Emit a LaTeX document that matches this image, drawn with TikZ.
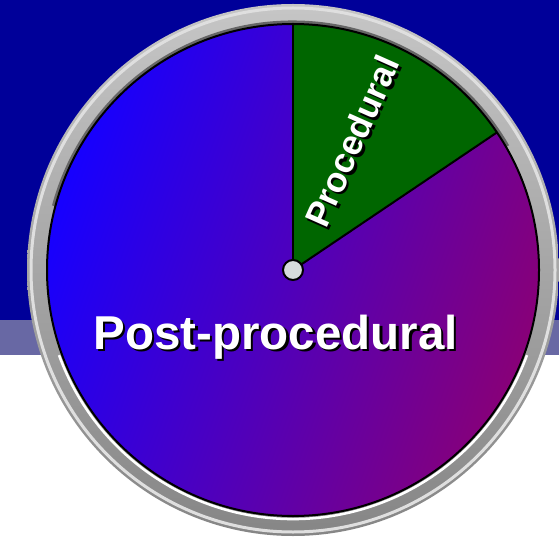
\documentclass[tikz,border=0pt]{standalone}
\usepackage{fontspec}
\setmainfont{Liberation Sans}
\definecolor{navy}{RGB}{0,0,153}
\definecolor{band}{RGB}{104,104,164}
\definecolor{pieblue}{RGB}{22,0,255}
\definecolor{piepurple}{RGB}{136,0,120}
\definecolor{sectorgreen}{RGB}{0,102,0}
\definecolor{hubgray}{RGB}{214,220,220}
% white text over a black drop shadow: #1,#2 = shadow offset
\newcommand\dropped[3]{\makebox[0pt][l]{\hspace*{#1}\raisebox{#2}{\color{black}#3}}#3}

\begin{document}
\begin{tikzpicture}[x=1pt, y=1pt,
    slicetext/.style={text=white, inner sep=0pt, font=\bfseries\fontsize{#1}{#1}\selectfont}]
  \useasboundingbox (0,0) rectangle (559,544);
  % background
  \fill[white] (0,0) rectangle (559,544);
  \fill[navy] (0,224) rectangle (559,544);
  \fill[band] (0,189) rectangle (559,224);

  \begin{scope}[shift={(293,274)}]
    % metal ring
    \shade[top color=gray!45, bottom color=gray!95] (0,0) circle (266);
    \draw[gray!25, line width=3] (0,0) circle (262);
    \draw[black!60, line width=3] (30:248) arc[start angle=30, end angle=165, radius=248];
    \draw[white, line width=2.5] (200:249) arc[start angle=200, end angle=340, radius=249];

    % pie
    \shade[left color=pieblue, right color=piepurple, shading angle=70] (0,0) circle (246);
    \fill[sectorgreen] (0,0) -- (90:246) arc[start angle=90, end angle=34, radius=246] -- cycle;
    \draw[line width=2] (0,0) -- (90:246);
    \draw[line width=2] (0,0) -- (34:246);
    \draw[line width=2] (0,0) circle (246);

    % hub
    \node[circle, draw, line width=2, fill=hubgray, minimum size=20, inner sep=0pt] (hub) at (0,0) {};
  \end{scope}

  % texts
  \node[slicetext=47.5, anchor=base] (post) at (275.5,195) {\dropped{2.5pt}{-2.5pt}{Post-procedural}};
  \node[slicetext=35, rotate=66] (proc) at (353.5,402) {\dropped{-1.3pt}{-3.3pt}{Procedural}};
\end{tikzpicture}
\end{document}
